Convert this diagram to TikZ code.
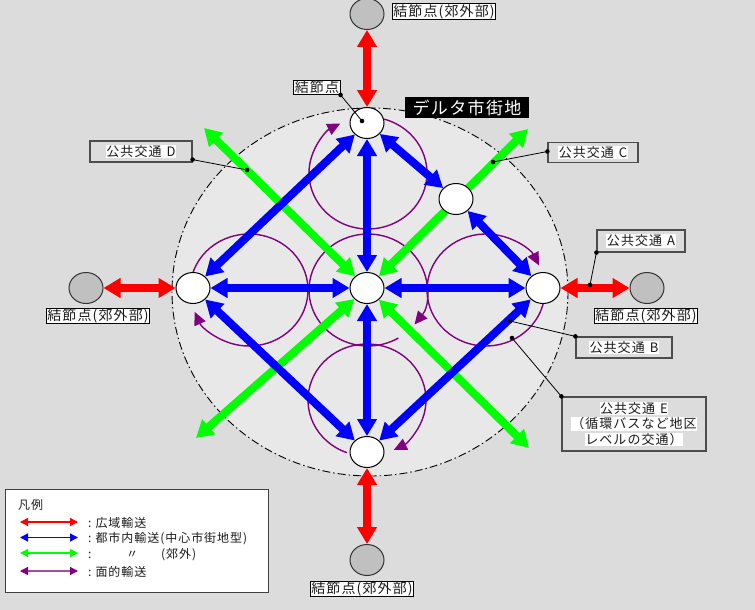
\documentclass[tikz,border=0pt]{standalone}
\usepackage{fontspec}
\setmainfont{Noto Sans CJK JP}[LetterSpace=8]
\usetikzlibrary{arrows.meta,calc,shapes.geometric}
\pgfdeclarelayer{back}
\pgfdeclarelayer{mid}
\pgfsetlayers{back,mid,main}
\definecolor{bgc}{HTML}{DCDCDC}
\definecolor{innerc}{HTML}{E8E8E8}
\definecolor{gnode}{HTML}{C0C0C0}
\definecolor{pur}{HTML}{800080}
\definecolor{purl}{HTML}{9E4F9E}
\definecolor{grn}{HTML}{00FF00}
\definecolor{blu}{HTML}{0000FF}
\definecolor{rd}{HTML}{FF0000}
\definecolor{txt}{HTML}{1A1A1A}
\newcommand{\wb}[1]{{\setlength{\fboxsep}{0.6pt}\colorbox{white}{#1}}}
\tikzset{
  hub/.style={ellipse, draw=black, line width=1pt, fill=white, minimum width=34pt, minimum height=31pt, inner sep=0pt},
  subhub/.style={ellipse, draw=black!80, line width=1pt, fill=gnode, minimum width=34pt, minimum height=31pt, inner sep=0pt},
  bigarr/.style={line width=8pt, {Triangle[length=17pt,width=19pt]}-{Triangle[length=17pt,width=19pt]}},
  redarr/.style={bigarr, draw=rd},
  bluarr/.style={bigarr, draw=blu},
  grnarr/.style={bigarr, draw=grn},
  purarc/.style={draw=pur, line width=1.4pt, -{Triangle[length=13pt,width=12pt]}},
  legarr/.style={line width=1.3pt, {Triangle[length=8pt,width=8pt]}-{Triangle[length=8pt,width=8pt]}},
  jlab/.style={draw=black, fill=white, line width=0.8pt, inner xsep=1pt, inner ysep=0.5pt, text=txt, font=\fontsize{14}{16}\selectfont},
  ptbox/.style={draw=black!70, line width=1.2pt, inner sep=0pt, text=txt, font=\fontsize{13}{15.5}\selectfont, align=center},
  leader/.style={draw=black, line width=0.8pt},
  ldot/.style={fill=black},
  legtxt/.style={anchor=west, inner sep=0pt, text=txt, font=\fontsize{12}{14}\selectfont}
}
\begin{document}
\begin{tikzpicture}[x=1pt,y=-1pt]
\useasboundingbox (0,0) rectangle (755,610);
\begin{pgfonlayer}{back}
  \fill[bgc] (0,0) rectangle (755,610);
  \draw[fill=innerc, line width=0.9pt, dash pattern=on 8pt off 3pt on 1.5pt off 3pt] (370,292) ellipse [x radius=198pt, y radius=184pt];
\end{pgfonlayer}

% hubs
\node[hub] (T) at (367,123) {};
\node[hub] (C) at (367,288) {};
\node[hub] (L) at (193,288) {};
\node[hub] (R) at (543,288) {};
\node[hub] (B) at (367,452) {};
\node[hub] (U) at (456,199) {};
\node[subhub] (ST) at (367,14) {};
\node[subhub] (SL) at (86,288) {};
\node[subhub] (SR) at (647,288) {};
\node[subhub] (SB) at (367,560) {};

% purple circle centres and green tips
\coordinate (pT) at (368,173);
\coordinate (pL) at (249,290);
\coordinate (pC) at (368,290);
\coordinate (pR) at (486,290);
\coordinate (pB) at (367,400);
\coordinate (gNW) at (204,128);
\coordinate (gNE) at (528,129);
\coordinate (gSW) at (196,438);
\coordinate (gSE) at (529,448);

\begin{pgfonlayer}{mid}
  \draw[purarc] ([shift={(74:59pt and 56pt)}]pT) arc[start angle=74, end angle=-242, x radius=59pt, y radius=56pt];
  \draw[purarc] ([shift={(165:59pt and 56pt)}]pL) arc[start angle=165, end angle=-157, x radius=59pt, y radius=56pt];
  \draw[purarc] ([shift={(-59:59pt and 56pt)}]pC) arc[start angle=-59, end angle=-398, x radius=59pt, y radius=56pt];
  \draw[purarc] ([shift={(-10:59pt and 56pt)}]pR) arc[start angle=-10, end angle=-334, x radius=59pt, y radius=56pt];
  \draw[purarc] ([shift={(-110:59pt and 56pt)}]pB) arc[start angle=-110, end angle=-423, x radius=59pt, y radius=56pt];

  \draw[grnarr] (C) -- (gNW);
  \draw[grnarr] (C) -- (gNE);
  \draw[grnarr] (C) -- (gSW);
  \draw[grnarr] (C) -- (gSE);

  \draw[bluarr] (C) -- (T);
  \draw[bluarr] (C) -- (L);
  \draw[bluarr] (C) -- (R);
  \draw[bluarr] (C) -- (B);
  \draw[bluarr] (T) -- (U);
  \draw[bluarr] (U) -- (R);
  \draw[bluarr] (T) -- (L);
  \draw[bluarr] (L) -- (B);
  \draw[bluarr] (B) -- (R);

  \draw[redarr] (ST) -- (T);
  \draw[redarr] (SL) -- (L);
  \draw[redarr] (R) -- (SR);
  \draw[redarr] (B) -- (SB);
\end{pgfonlayer}

% suburban node labels
\node[jlab] (lT) at (444,11.5) {結節点(郊外部)};
\node[jlab] (lL) at (98,316) {結節点(郊外部)};
\node[jlab] (lR) at (646,316) {結節点(郊外部)};
\node[jlab] (lB) at (362,589) {結節点(郊外部)};

% node label
\node[jlab] (lN) at (317,87.5) {結節点};
\coordinate (dN) at (362,121);
\draw[leader] (lN.south east) -- (dN);
\fill[ldot] (lN.south east) circle (2.3pt);
\fill[ldot] (dN) circle (2.3pt);

% delta title
\node[fill=black, text=white, minimum width=124pt, minimum height=21pt, inner sep=0pt, font=\fontsize{17}{19}\selectfont] (delta) at (467,107.5) {デルタ市街地};

% public transport labels
\node[ptbox, minimum width=88pt, minimum height=22pt] (pA) at (641,241) {\wb{公共交通\hspace{5pt}A}};
\node[ptbox, minimum width=96pt, minimum height=21pt] (pBx) at (624,347.5) {\wb{公共交通\hspace{5pt}B}};
\node[ptbox, minimum width=90pt, minimum height=20pt] (pCx) at (593,152.5) {\wb{公共交通\hspace{5pt}C}};
\node[ptbox, minimum width=102pt, minimum height=21pt] (pD) at (141,151.5) {\wb{公共交通\hspace{5pt}D}};
\node[ptbox, minimum width=144pt, minimum height=54pt] (pE) at (634,424) {\wb{公共交通\hspace{5pt}E}\\\wb{（循環バスなど地区}\\\wb{レベルの交通）}};

\coordinate (dA) at (590,285);
\coordinate (dB) at (510,321);
\coordinate (dC) at (493,162);
\coordinate (dD) at (247,170);
\coordinate (dE) at (512,338);
\coordinate (eA) at (pA.south west);
\coordinate (eB) at (pBx.north west);
\coordinate (eC) at ($(pCx.west)+(0,-1)$);
\coordinate (eD) at ($(pD.south east)+(0,-3)$);
\coordinate (eE) at (pE.north west);
\foreach \a/\b in {eA/dA,eB/dB,eC/dC,eD/dD,eE/dE}{
  \draw[leader] (\a) -- (\b);
  \fill[ldot] (\a) circle (2.3pt);
  \fill[ldot] (\b) circle (2.3pt);
}

% legend
\node[draw=black!75, line width=1pt, fill=white, minimum width=263pt, minimum height=103pt, anchor=north west, inner sep=0pt] (leg) at (5,489) {};
\node[legtxt] (legT) at (18,505) {凡例};
\coordinate (l1a) at (20,522); \coordinate (l1b) at (78,522);
\coordinate (l2a) at (20,537.5); \coordinate (l2b) at (78,537.5);
\coordinate (l3a) at (20,553); \coordinate (l3b) at (78,553);
\coordinate (l4a) at (20,571); \coordinate (l4b) at (78,571);
\draw[legarr, draw=rd, fill=rd] (l1a) -- (l1b);
\draw[legarr, draw=blu, fill=blu] (l2a) -- (l2b);
\draw[legarr, draw=grn, fill=grn] (l3a) -- (l3b);
\draw[legarr, draw=purl, {Triangle[length=8pt,width=8pt,fill=pur,color=pur]}-{Triangle[length=8pt,width=8pt,fill=pur,color=pur]}] (l4a) -- (l4b);
\node[legtxt] (t1) at (88,523) {:\hspace{4pt}広域輸送};
\node[legtxt] (t2) at (88,539) {:\hspace{4pt}都市内輸送(中心市街地型)};
\node[legtxt] (t3) at (88,555) {:};
\node[legtxt] (t3b) at (126,555) {〃};
\node[legtxt] (t3c) at (161,555) {(郊外)};
\node[legtxt] (t4) at (88,572) {:\hspace{4pt}面的輸送};
\end{tikzpicture}
\end{document}
